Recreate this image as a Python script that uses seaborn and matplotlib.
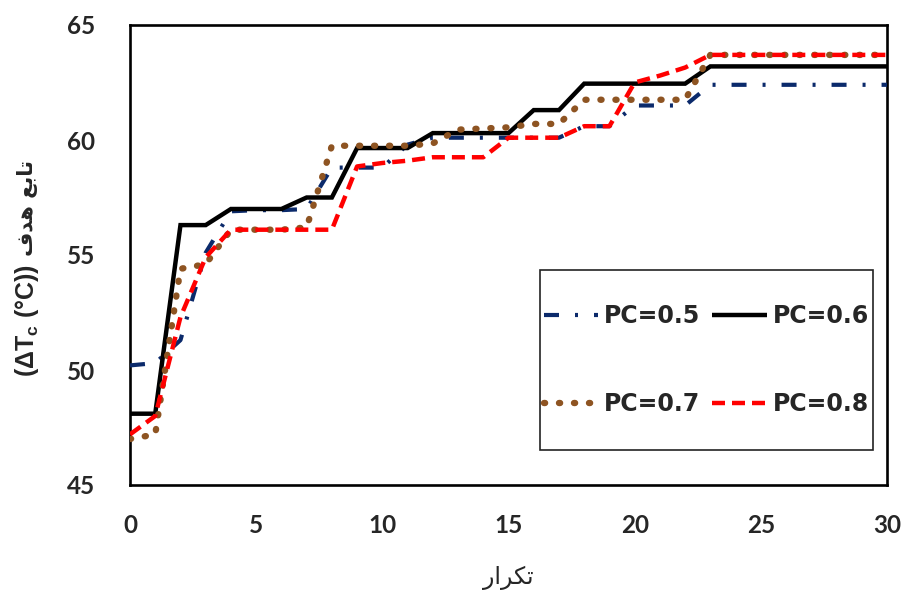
import matplotlib
matplotlib.use("Agg")
import matplotlib.pyplot as plt
from matplotlib.patches import Rectangle
from matplotlib.ticker import MultipleLocator
from matplotlib.font_manager import FontProperties
import pandas as pd
import seaborn as sns

# ---- data -------------------------------------------------------------
iterations = list(range(31))

pc05 = [50.2, 50.3, 51.3, 55.1, 56.9, 56.95, 56.95, 57.0, 58.8, 58.8,
        58.8, 59.8, 60.1, 60.1, 60.1, 60.1, 60.1, 60.1, 60.6, 60.6,
        61.5, 61.5, 61.5, 62.4, 62.4, 62.4, 62.4, 62.4, 62.4, 62.4, 62.4]
pc06 = [48.1, 48.1, 56.3, 56.3, 57.0, 57.0, 57.0, 57.5, 57.5, 59.65,
        59.65, 59.65, 60.3, 60.3, 60.3, 60.3, 61.3, 61.3, 62.45, 62.45,
        62.45, 62.45, 62.45, 63.2, 63.2, 63.2, 63.2, 63.2, 63.2, 63.2, 63.2]
pc07 = [47.0, 47.2, 54.4, 54.6, 56.1, 56.1, 56.1, 56.2, 59.75, 59.75,
        59.75, 59.75, 59.85, 60.45, 60.5, 60.55, 60.7, 60.7, 61.75, 61.75,
        61.75, 61.75, 61.75, 63.7, 63.7, 63.7, 63.7, 63.7, 63.7, 63.7, 63.7]
pc08 = [47.2, 48.0, 52.3, 54.9, 56.1, 56.1, 56.1, 56.1, 56.1, 58.85,
        59.0, 59.1, 59.25, 59.25, 59.25, 60.1, 60.1, 60.1, 60.6, 60.6,
        62.5, 62.8, 63.15, 63.7, 63.7, 63.7, 63.7, 63.7, 63.7, 63.7, 63.7]

series_labels = ["PC=0.5", "PC=0.6", "PC=0.7", "PC=0.8"]
x_ticks = [0, 5, 10, 15, 20, 25, 30]
y_ticks = [45, 50, 55, 60, 65]

# Arabic strings written in presentation forms, visual order
# (matplotlib does no bidi reordering or glyph shaping)
x_label = "\uFEAD\uFE8D\uFEAE\uFEDC\uFE97"                    # تكرار
y_label_ar = "\uFED1\uFEAA\uFEEB \uFECA\uFE91\uFE8E\uFE97"     # تابع هدف
y_label_sym = r"(Δ$\mathbf{T_c}$ (°C))"

# ---- style ------------------------------------------------------------
sns.set_style("white")
plt.rcParams["font.family"] = ["DejaVu Sans"]
plt.rcParams["lines.scale_dashes"] = False
plt.rcParams["mathtext.fontset"] = "custom"
plt.rcParams["mathtext.rm"] = "Liberation Sans"
plt.rcParams["mathtext.bf"] = "Liberation Sans:bold"
plt.rcParams["mathtext.it"] = "Liberation Sans:italic"

PX = 0.72  # points per pixel at 100 dpi
styles = {
    "PC=0.5": dict(color="#0B2A6B", linewidth=3.0,
                   linestyle=(0, (15 * PX, 16 * PX, 3 * PX, 16 * PX)),
                   capstyle="butt", zorder=3),
    "PC=0.6": dict(color="black", linewidth=3.2, linestyle="-",
                   capstyle="butt", zorder=4),
    "PC=0.7": dict(color="#8E5422", linewidth=4.6,
                   linestyle=(0, (0.8, 15 * PX - 0.8)),
                   capstyle="round", zorder=5),
    "PC=0.8": dict(color="#FF0000", linewidth=3.2,
                   linestyle=(0, (13 * PX, 7 * PX)),
                   capstyle="butt", zorder=6),
}

df = pd.DataFrame({"iteration": iterations,
                   "PC=0.5": pc05, "PC=0.6": pc06,
                   "PC=0.7": pc07, "PC=0.8": pc08})

fig = plt.figure(figsize=(9.07, 5.92), dpi=100)
ax = fig.add_axes([130 / 907, 107 / 592, 757 / 907, 460 / 592])

for name in series_labels:
    st = styles[name]
    sns.lineplot(data=df, x="iteration", y=name, ax=ax, label=name,
                 legend=False, errorbar=None, color=st["color"],
                 linewidth=st["linewidth"], linestyle=st["linestyle"],
                 zorder=st["zorder"])
    line = ax.lines[-1]
    line.set_dash_capstyle(st["capstyle"])
    line.set_solid_capstyle("butt")
    line.set_solid_joinstyle("miter")

ax.set_xlim(0, 30)
ax.set_ylim(45, 65)

tick_font = dict(family="Lato", weight="bold", size=17.5)
ax.set_xticks(x_ticks, labels=[str(v) for v in x_ticks], **tick_font)
ax.set_yticks(y_ticks, labels=[str(v) for v in y_ticks], **tick_font)
ax.xaxis.set_minor_locator(MultipleLocator(1))
ax.yaxis.set_minor_locator(MultipleLocator(1))
ax.tick_params(which="both", direction="in", length=5.5, width=1.6,
               color="black", top=False, right=False)
ax.tick_params(axis="x", which="major", pad=21)
ax.tick_params(axis="y", which="major", pad=25)

for sp in ax.spines.values():
    sp.set_visible(True)
    sp.set_color("black")
    sp.set_linewidth(1.9)

ax.set_xlabel(x_label, fontsize=17, family="DejaVu Sans")
ax.xaxis.set_label_coords(0.5, -0.175)
ax.set_ylabel("")

# y label: symbol part first, Arabic words stacked above it
renderer = fig.canvas.get_renderer()
t_sym = fig.text(27 / 907, (592 - 377) / 592, y_label_sym, rotation=90,
                 ha="center", va="bottom", fontsize=18, fontweight="bold",
                 family="Liberation Sans")
bb = t_sym.get_window_extent(renderer)
fig.text(27 / 907, (bb.y1 + 8) / fig.bbox.height, y_label_ar, rotation=90,
         ha="center", va="bottom", fontsize=15, fontweight="bold",
         family=["DejaVu Sans"])

# legend in a framed box
ax.add_patch(Rectangle((0.542, 0.076), 0.439, 0.391, transform=ax.transAxes,
                       fill=False, edgecolor="#222222", linewidth=1.2,
                       zorder=7))
handles, labels = ax.get_legend_handles_labels()
order = [labels.index(n) for n in ["PC=0.5", "PC=0.7", "PC=0.6", "PC=0.8"]]
leg = ax.legend([handles[i] for i in order], [labels[i] for i in order],
                ncol=2, loc="center", bbox_to_anchor=(0.7615, 0.2715),
                frameon=False,
                prop=FontProperties(family="DejaVu Sans", weight="bold",
                                    size=17),
                handlelength=2.3, handletextpad=0.25, columnspacing=0.5,
                labelspacing=2.7)
leg.set_zorder(8)

fig.savefig("out.png", dpi=100, facecolor="white")
